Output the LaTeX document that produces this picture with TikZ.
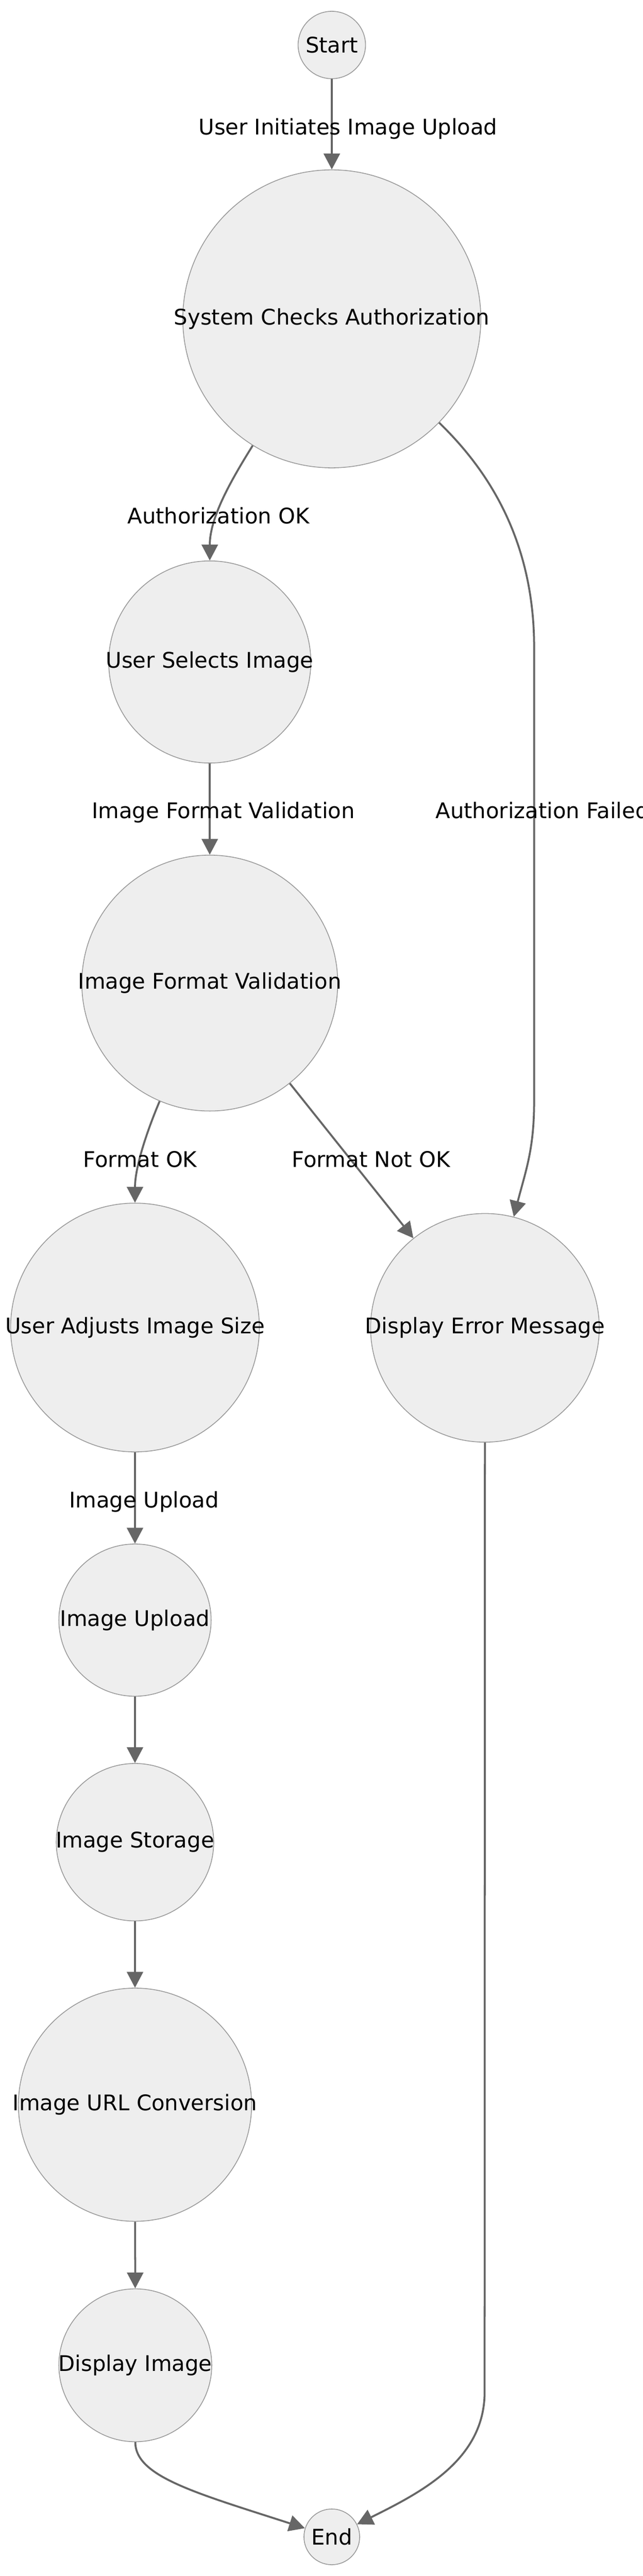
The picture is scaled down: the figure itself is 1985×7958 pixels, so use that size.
\documentclass[tikz,border=0pt]{standalone}
\usepackage{fontspec}
\setmainfont{DejaVu Sans}
\usepackage{tikz}
\usepackage{xcolor}
\usetikzlibrary{arrows.meta}

\definecolor{nodefill}{HTML}{EEEEEE}
\definecolor{nodeline}{HTML}{999999}
\definecolor{edgeline}{HTML}{666666}

% text that may run past the circle without growing it
\newcommand{\wide}[1]{\makebox[0pt]{#1}}

\begin{document}
\begin{tikzpicture}[x=0.01cm,y=-0.01cm,
  stage/.style={circle,draw=nodeline,fill=nodefill,line width=0.7pt,inner sep=0pt,font=\fontsize{18.9pt}{22.7pt}\selectfont},
  flow/.style={draw=edgeline,line width=1.7pt,-{Triangle[length=0.49cm,width=0.5cm]}},
  lbl/.style={anchor=base,inner sep=0pt,font=\fontsize{18.9pt}{22.7pt}\selectfont}]
  % Page
  \useasboundingbox (0,0) rectangle (1985,7958);
  \clip (0,0) rectangle (1985,7958);

  % Nodes
  \node[stage,minimum size=2.08cm] (start) at (1025,139) {\wide{Start}};
  \node[stage,minimum size=9.20cm] (auth) at (1025,985) {\wide{System Checks Authorization}};
  \node[stage,minimum size=6.24cm] (select) at (648,2045) {\wide{User Selects Image}};
  \node[stage,minimum size=7.90cm] (valid) at (648,3037) {\wide{Image Format Validation}};
  \node[stage,minimum size=7.68cm] (adjust) at (417,4101) {\wide{User Adjusts Image Size}};
  \node[stage,minimum size=7.06cm] (error) at (1498,4102) {\wide{Display Error Message}};
  \node[stage,minimum size=4.70cm] (upload) at (417,5005) {\wide{Image Upload}};
  \node[stage,minimum size=4.86cm] (storage) at (417,5691) {\wide{Image Storage}};
  \node[stage,minimum size=7.20cm] (url) at (417,6502) {\wide{Image URL Conversion}};
  \node[stage,minimum size=4.72cm] (display) at (418,7307) {\wide{Display Image}};
  \node[stage,minimum size=1.72cm] (end) at (1025,7837) {\wide{End}};

  % Edges
  \draw[flow] (start) -- (auth);
  \draw[flow] (auth) .. controls (711,1488) and (648,1600) .. (select);
  \draw[flow] (auth) .. controls (1490,1435) and (1650,1650) .. (1650,2000)
    -- (1650,3400) .. controls (1650,3550) and (1625,3613) .. (error);
  \draw[flow] (select) -- (valid);
  \draw[flow] (valid) .. controls (460,3480) and (417,3600) .. (adjust);
  \draw[flow] (valid) -- (error);
  \draw[flow] (adjust) -- (upload);
  \draw[flow] (upload) -- (storage);
  \draw[flow] (storage) -- (url);
  \draw[flow] (url) -- (display);
  \draw[flow] (display) .. controls (418,7650) and (600,7700) .. (end);
  \draw[flow] (error) -- (1497,7390) .. controls (1497,7600) and (1300,7700) .. (end);

  % Edge labels
  \node[lbl] (lblinit) at (1075,416) {User Initiates Image Upload};
  \node[lbl] (lblauthok) at (675,1618) {Authorization OK};
  \node[lbl] (lblformat) at (690,2529) {Image Format Validation};
  \node[lbl,anchor=base west] (lblauthfail) at (1345,2529) {Authorization Failed};
  \node[lbl] (lblfmtok) at (433,3605) {Format OK};
  \node[lbl] (lblfmtbad) at (1146,3605) {Format Not OK};
  \node[lbl] (lblupload) at (445,4657) {Image Upload};
\end{tikzpicture}
\end{document}
